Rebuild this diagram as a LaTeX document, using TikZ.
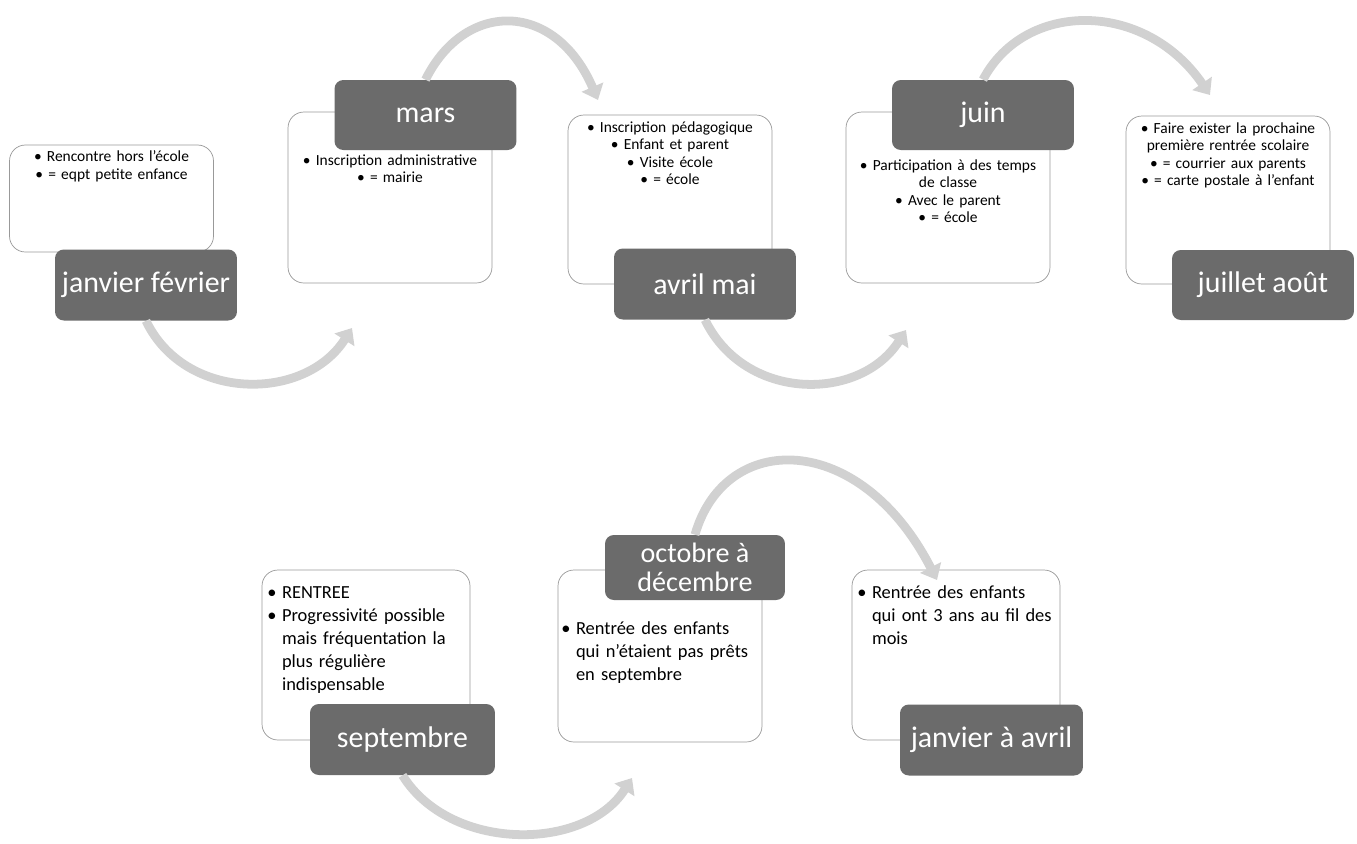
\documentclass[tikz,border=0pt]{standalone}
\usepackage{fontspec}
\setmainfont{Carlito}
\usetikzlibrary{positioning,arrows.meta}
\tikzset{
  card/.style={draw=black!40, line width=0.4pt, rounded corners=9pt, fill=white, minimum width=4.08cm, inner sep=0pt},
  cardtext/.style={text width=3.95cm, align=center, inner sep=0pt, font=\fontsize{8.8}{9.8}\selectfont},
  cardlist/.style={text width=3.95cm, align=left, inner sep=0pt, font=\fontsize{10.5}{13}\selectfont},
  month/.style={fill=black!58, rounded corners=5pt, text=white, minimum width=3.64cm, minimum height=1.42cm, align=center, font=\fontsize{17}{18}\selectfont},
  flow/.style={draw=black!18, line width=5pt, -{Triangle[length=8pt,width=13pt]}},
}
\newcommand{\bul}[1]{\par\raggedright\leftskip=0.8em\noindent\hspace*{-0.8em}\makebox[0.8em][l]{\textbullet}#1\par}
\begin{document}
\begin{tikzpicture}[x=0.02cm,y=-0.02cm]
\useasboundingbox (0,0) rectangle (1357,843);
%% top row
\node[card, minimum height=2.14cm] (b1) at (111.5,198.5) {};
\node[card, minimum height=3.42cm] (b2) at (390,197.5) {};
\node[card, minimum height=3.38cm] (b3) at (670,199.5) {};
\node[card, minimum height=3.42cm] (b4) at (948,197.5) {};
\node[card, minimum height=3.36cm] (b5) at (1228,200) {};
\node[cardtext, below=1.2mm of b1.north] (t1) {\textbullet{} Rencontre hors l'école\\ \textbullet{} = eqpt petite enfance};
\node[cardtext, below=8.6mm of b2.north] (t2) {\textbullet{} Inscription administrative\\ \textbullet{} = mairie};
\node[cardtext, below=1.4mm of b3.north] (t3) {\textbullet{} Inscription pédagogique\\ \textbullet{} Enfant et parent\\ \textbullet{} Visite école\\ \textbullet{} = école};
\node[cardtext, below=9.6mm of b4.north] (t4) {\textbullet{} Participation à des temps\\ de classe\\ \textbullet{} Avec le parent\\ \textbullet{} = école};
\node[cardtext, below=1.4mm of b5.north] (t5) {\textbullet{} Faire exister la prochaine\\ première rentrée scolaire\\ \textbullet{} = courrier aux parents\\ \textbullet{} = carte postale à l'enfant};
\node[month] (l1) at (146,285) {janvier février};
\node[month, minimum height=1.4cm] (l2) at (425.5,115) {mars};
\node[month] (l3) at (705,284) {avril mai};
\node[month, minimum height=1.4cm] (l4) at (983,115) {juin};
\node[month, minimum height=1.4cm] (l5) at (1263,285) {juillet août};
%% bottom row
\node[card, minimum width=4.16cm, minimum height=3.4cm] (b6) at (366,655) {};
\node[card, minimum height=3.44cm] (b7) at (660,656) {};
\node[card, minimum width=4.16cm, minimum height=3.4cm] (b8) at (956,655) {};
\node[cardlist, below=1.2mm of b6.north] (t6) {\bul{RENTREE}\bul{Progressivité possible\newline mais fréquentation la\newline plus régulière\newline indispensable}};
\node[cardlist, below=8.4mm of b7.north] (t7) {\bul{Rentrée des enfants\newline qui n'étaient pas prêts\newline en septembre}};
\node[cardlist, below=1.2mm of b8.north] (t8) {\bul{Rentrée des enfants\newline qui ont 3 ans au fil des\newline mois}};
\node[month, minimum width=3.7cm] (l6) at (402.5,739.5) {septembre};
\node[month, minimum width=3.6cm, minimum height=1.3cm, font=\fontsize{16}{16.5}\selectfont] (l7) at (695,567.5) {octobre à\\ décembre};
\node[month, minimum width=3.66cm] (l8) at (991.5,740) {janvier à avril};
%% arcs
\coordinate (e1) at (352,328);
\coordinate (e2) at (598,100);
\coordinate (e3) at (906,330);
\coordinate (e4) at (1210,95);
\coordinate (e5) at (632,778);
\coordinate (e6) at (937,580);
\draw[flow] (l1.south) .. controls (185,402) and (305,402) .. (e1);
\draw[flow] (l2.north) .. controls (465,0) and (555,0) .. (e2);
\draw[flow] (l3.south) .. controls (745,402) and (860,402) .. (e3);
\draw[flow] (l4.north) .. controls (1025,0) and (1145,0) .. (e4);
\draw[flow] (l6.south) .. controls (450,852) and (585,852) .. (e5);
\draw[flow] (l7.north) .. controls (725,430) and (860,430) .. (e6);
\end{tikzpicture}
\end{document}
